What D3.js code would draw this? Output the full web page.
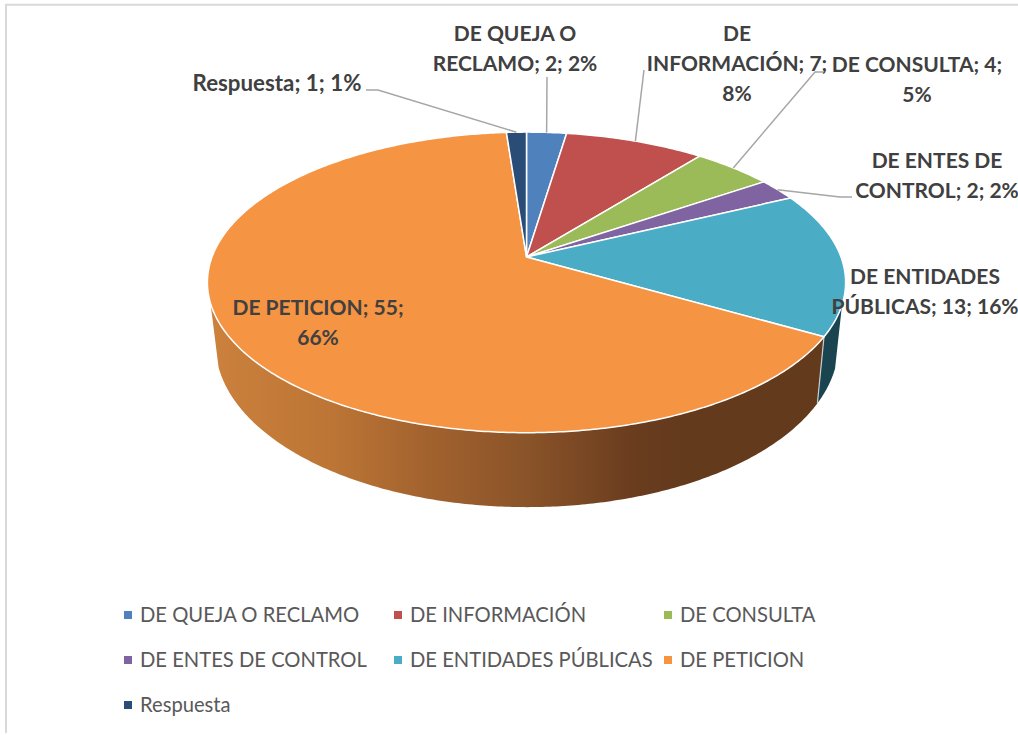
<!DOCTYPE html>
<html>
<head>
<meta charset="utf-8">
<script src="https://cdnjs.cloudflare.com/ajax/libs/d3/7.8.5/d3.min.js"></script>
<style>
  html, body { margin: 0; padding: 0; background: #fff; }
  svg { display: block; }
</style>
</head>
<body>
<div id="chart"></div>
<script>
// data
var categories = ["DE QUEJA O RECLAMO", "DE INFORMACIÓN", "DE CONSULTA", "DE ENTES DE CONTROL", "DE ENTIDADES PÚBLICAS", "DE PETICION", "Respuesta"];
var values = [2, 7, 4, 2, 13, 55, 1];
var percents = [2, 8, 5, 2, 16, 66, 1];
var colors = ["#4f81bd", "#c0504d", "#9bbb59", "#8064a2", "#4bacc6", "#f59443", "#2a4d78"];

// how each data label wraps in the original
var labelLines = [
  ["DE QUEJA O", "RECLAMO; 2; 2%"],
  ["DE", "INFORMACIÓN; 7;", "8%"],
  ["DE CONSULTA; 4;", "5%"],
  ["DE ENTES DE", "CONTROL; 2; 2%"],
  ["DE ENTIDADES", "PÚBLICAS; 13; 16%"],
  ["DE PETICION; 55;", "66%"],
  ["Respuesta; 1; 1%"]
];

// label placement: centre x, first baseline, line step
var labelPos = [
  {x: 515, y: 41, dy: 30, size: 21},
  {x: 737, y: 41, dy: 30, size: 21},
  {x: 917, y: 72, dy: 30, size: 21},
  {x: 937, y: 168, dy: 30, size: 21},
  {x: 925, y: 284, dy: 30, size: 21},
  {x: 318, y: 315, dy: 30, size: 21},
  {x: 277, y: 91, dy: 30, size: 22.3}
];

// leader line elbows, the last point comes from the slice itself
var leaders = [
  [[547, 77]],
  [[644, 70]],
  [[825, 72], [815, 72]],
  [[852, 197], [840, 197]],
  null,
  null,
  [[366, 90], [378, 90]]
];

var width = 1018, height = 735;

var svg = d3.select("#chart").append("svg")
  .attr("width", width)
  .attr("height", height);

// frame of the chart area
svg.append("path")
  .attr("d", "M6,733V4.7H1018")
  .attr("fill", "none")
  .attr("stroke", "#d9d9d9")
  .attr("stroke-width", 2);

// perspective: the disc is tilted, so the centre is not in the middle of the ellipse
var k = -0.169;
var topDisc = {x: 526.5, y: 257, a: 314.5, b: 146};
var lowDisc = {x: 527, y: 317, a: 307, b: 158};

function project(disc, angle) {
  var u = Math.sin(angle), v = -Math.cos(angle), w = 1 + k * v;
  return [disc.x + disc.a * u / w, disc.y + disc.b * v / w];
}

function arcPoints(disc, a0, a1) {
  var n = Math.max(2, Math.ceil(Math.abs(a1 - a0) / 0.01));
  return d3.range(n + 1).map(function(i) {
    return project(disc, a0 + (a1 - a0) * i / n);
  });
}

var line = d3.line();
var deg = Math.PI / 180;

var arcs = d3.pie().sort(null).startAngle(0).endAngle(2 * Math.PI)(values);

// side walls
var defs = svg.append("defs");
var grad = defs.append("linearGradient")
  .attr("id", "wall")
  .attr("gradientUnits", "userSpaceOnUse")
  .attr("x1", 210).attr("x2", 820).attr("y1", 0).attr("y2", 0);
[[0, "#cc813d"], [0.2, "#bc7535"], [0.36, "#a2622e"], [0.52, "#8a5329"], [0.7, "#693c1e"], [0.8, "#633a1c"], [1, "#633a1c"]]
  .forEach(function(s) { grad.append("stop").attr("offset", s[0]).attr("stop-color", s[1]); });

var bound = arcs[4].endAngle;

function wall(a0, a1) {
  var pts = arcPoints(topDisc, a0, a1).concat(arcPoints(lowDisc, a1, a0));
  return line(pts) + "Z";
}

svg.append("path")
  .attr("d", wall(108 * deg, bound))
  .attr("fill", "#1a4450");

svg.append("path")
  .attr("d", wall(bound, 252.5 * deg))
  .attr("fill", "url(#wall)");

svg.append("path")
  .attr("d", line([project(topDisc, bound), project(lowDisc, bound)]))
  .attr("fill", "none")
  .attr("stroke", "#c8cdd0")
  .attr("stroke-width", 1.2);

// top of the pie
svg.append("g")
  .selectAll("path")
  .data(arcs)
  .enter().append("path")
    .attr("d", function(d) {
      return line([[topDisc.x, topDisc.y]].concat(arcPoints(topDisc, d.startAngle, d.endAngle))) + "Z";
    })
    .attr("fill", function(d, i) { return colors[i]; })
    .attr("stroke", "#fff")
    .attr("stroke-width", 1.5)
    .attr("stroke-linejoin", "round");

// leader lines
svg.append("g")
  .selectAll("path")
  .data(arcs.map(function(d, i) { return {arc: d, pts: leaders[i]}; }).filter(function(d) { return d.pts; }))
  .enter().append("path")
    .attr("d", function(d) {
      return line(d.pts.concat([project(topDisc, (d.arc.startAngle + d.arc.endAngle) / 2)]));
    })
    .attr("fill", "none")
    .attr("stroke", "#a6a6a6")
    .attr("stroke-width", 1.5);

// data labels
var labels = svg.append("g")
  .attr("font-family", "Lato, sans-serif")
  .attr("font-weight", 700)
  .attr("fill", "#404040")
  .attr("text-anchor", "middle")
  .selectAll("text")
  .data(labelLines)
  .enter().append("text")
    .attr("font-size", function(d, i) { return labelPos[i].size; });

labels.selectAll("tspan")
  .data(function(d, i) { return d.map(function(t, j) { return {t: t, p: labelPos[i], j: j}; }); })
  .enter().append("tspan")
    .attr("x", function(d) { return d.p.x; })
    .attr("y", function(d) { return d.p.y + d.j * d.p.dy; })
    .text(function(d) { return d.t; });

// legend, three to a row
var legendX = d3.scaleLinear().domain([0, 2]).range([124, 664]);
var legendY = d3.scaleLinear().domain([0, 2]).range([615, 705]);

var legend = svg.append("g")
  .selectAll("g")
  .data(categories)
  .enter().append("g")
    .attr("transform", function(d, i) {
      return "translate(" + legendX(i % 3) + "," + legendY(Math.floor(i / 3)) + ")";
    });

legend.append("rect")
  .attr("y", -4)
  .attr("width", 8)
  .attr("height", 8)
  .attr("fill", function(d, i) { return colors[i]; });

legend.append("text")
  .attr("x", 16)
  .attr("y", 7)
  .attr("font-family", "Lato, sans-serif")
  .attr("font-size", 20.2)
  .attr("fill", "#595959")
  .text(function(d) { return d; });
</script>
</body>
</html>
